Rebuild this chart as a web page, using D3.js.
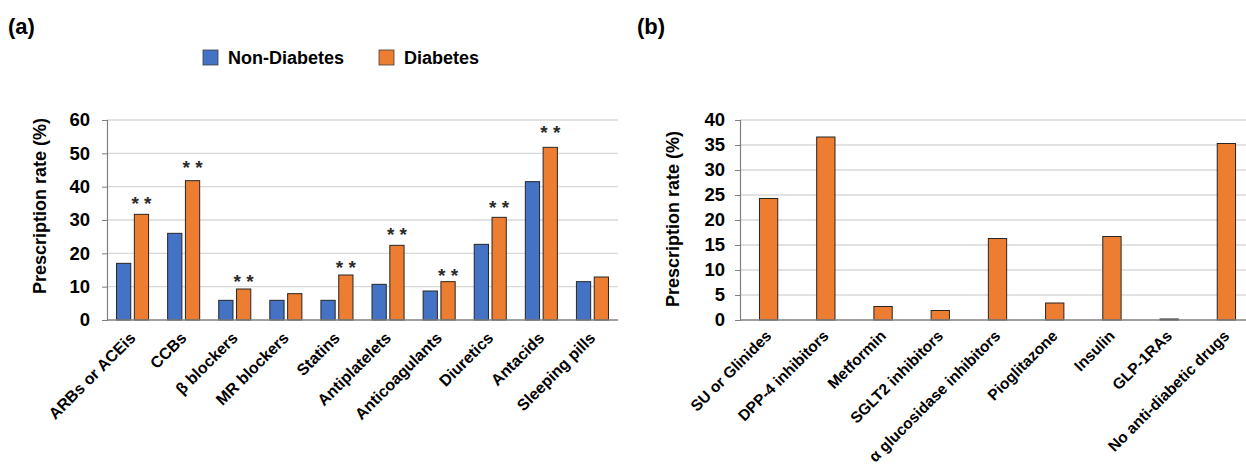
<!DOCTYPE html>
<html>
<head>
<meta charset="utf-8">
<script src="https://cdn.jsdelivr.net/npm/d3@7"></script>
<style>
  body { margin: 0; background: #fff; }
  svg { display: block; font-family: "Liberation Sans", Arial, sans-serif; }
</style>
</head>
<body>
<svg id="chart" width="1246" height="468"></svg>
<script>
// ---- data ----
const drugsA = ["ARBs or ACEis", "CCBs", "β blockers", "MR blockers", "Statins",
                "Antiplatelets", "Anticoagulants", "Diuretics", "Antacids", "Sleeping pills"];
const seriesA = ["Non-Diabetes", "Diabetes"];
const nonDiabetes = [17.0, 26.0, 5.9, 5.9, 5.9, 10.7, 8.7, 22.7, 41.5, 11.5];
const diabetes    = [31.7, 41.8, 9.3, 7.9, 13.5, 22.4, 11.5, 30.8, 51.8, 12.9];
// "**" marks: level (in %) where each mark sits, null = not significant
const sigLevel    = [36.2, 47.2, 13.0, null, 17.0, 27.0, 14.7, 35.0, 57.7, null];
const ticksA = [0, 10, 20, 30, 40, 50, 60];

const drugsB = ["SU or Glinides", "DPP-4 inhibitors", "Metformin", "SGLT2 inhibitors",
                "α glucosidase inhibitors", "Pioglitazone", "Insulin", "GLP-1RAs",
                "No anti-diabetic drugs"];
const valuesB = [24.3, 36.6, 2.7, 1.9, 16.3, 3.4, 16.7, 0.2, 35.3];
const ticksB = [0, 5, 10, 15, 20, 25, 30, 35, 40];

const BLUE = "#4472C4";
const ORANGE = "#ED7D31";
const GRID = "#d9d9d9";
const AXIS = "#808080";

const svg = d3.select("#chart");

// ---- helpers ----
function drawYAxis(g, y, ticks, x0, x1, pad) {
  // gridlines
  g.append("g").selectAll("line")
    .data(ticks.filter(t => t > 0))
    .join("line")
    .attr("x1", x0).attr("x2", x1)
    .attr("y1", d => y(d)).attr("y2", d => y(d))
    .attr("stroke", GRID).attr("stroke-width", 1.3);

  const ax = g.append("g")
    .attr("transform", `translate(${x0},0)`)
    .call(d3.axisLeft(y).tickValues(ticks).tickSize(5).tickPadding(pad));
  ax.select(".domain").attr("stroke", AXIS).attr("stroke-width", 1.2);
  ax.selectAll(".tick line").attr("stroke", AXIS);
  ax.selectAll(".tick text")
    .attr("font-size", 18.5).attr("font-weight", "bold").attr("fill", "#000")
    .attr("font-family", "Liberation Sans, Arial, sans-serif");
}

function drawXLabels(g, x, cats, yBase, size) {
  g.append("g").selectAll("text")
    .data(cats)
    .join("text")
    .attr("transform", d => `translate(${x(d) + x.bandwidth() / 2},${yBase}) rotate(-45)`)
    .attr("text-anchor", "end")
    .attr("dy", "0.35em")
    .attr("font-size", size)
    .attr("font-weight", "bold")
    .text(d => d);
}

function drawBaseline(g, x0, x1, y) {
  g.append("line")
    .attr("x1", x0).attr("x2", x1)
    .attr("y1", y).attr("y2", y)
    .attr("stroke", AXIS).attr("stroke-width", 1.6);
}

// ---- panel (a) ----
const gA = svg.append("g");
const xA = d3.scaleBand().domain(drugsA).range([107, 618]);
const xA1 = d3.scaleBand().domain(seriesA).range([0, xA.bandwidth()])
  .paddingInner(0.2).paddingOuter(0.535);
const yA = d3.scaleLinear().domain([0, 60]).range([320, 120]);

drawYAxis(gA, yA, ticksA, 107, 618, 12);

const rowsA = drugsA.map((d, i) => ({ drug: d, vals: [nonDiabetes[i], diabetes[i]], sig: sigLevel[i] }));

gA.append("g").selectAll("g")
  .data(rowsA)
  .join("g")
  .attr("transform", d => `translate(${xA(d.drug)},0)`)
  .selectAll("rect")
  .data(d => d.vals.map((v, j) => ({ key: seriesA[j], v: v })))
  .join("rect")
  .attr("x", d => xA1(d.key))
  .attr("width", xA1.bandwidth())
  .attr("y", d => yA(d.v))
  .attr("height", d => yA(0) - yA(d.v))
  .attr("fill", d => d.key === "Diabetes" ? ORANGE : BLUE)
  .attr("stroke", "#262626")
  .attr("stroke-width", 1);

gA.append("g").selectAll("text")
  .data(rowsA.filter(d => d.sig !== null))
  .join("text")
  .attr("x", d => xA(d.drug) + xA1("Diabetes") + xA1.bandwidth() / 2)
  .attr("y", d => yA(d.sig) + 11)
  .attr("text-anchor", "middle")
  .attr("font-size", 19)
  .attr("font-weight", "bold")
  .attr("fill", "#2b2b2b")
  .text("* *");

drawBaseline(gA, 107, 618, yA(0));
drawXLabels(gA, xA, drugsA, 335, 16);

gA.append("text")
  .attr("transform", "translate(46,206) rotate(-90)")
  .attr("text-anchor", "middle")
  .attr("font-size", 18).attr("font-weight", "bold")
  .text("Prescription rate (%)");

gA.append("text")
  .attr("x", 8).attr("y", 34)
  .attr("font-size", 22).attr("font-weight", "bold")
  .text("(a)");

// legend
const legend = gA.append("g");
const legendX = [203, 379];
seriesA.forEach((s, i) => {
  legend.append("rect")
    .attr("x", legendX[i]).attr("y", 50)
    .attr("width", 15).attr("height", 15)
    .attr("fill", i === 0 ? BLUE : ORANGE)
    .attr("stroke", "#404040").attr("stroke-width", 0.8);
  legend.append("text")
    .attr("x", legendX[i] + 25).attr("y", 64)
    .attr("font-size", 18).attr("font-weight", "bold")
    .text(s);
});

// ---- panel (b) ----
const gB = svg.append("g");
const xB = d3.scaleBand().domain(drugsB).range([740, 1255])
  .paddingInner(0.68).paddingOuter(0.34);
const yB = d3.scaleLinear().domain([0, 40]).range([320, 120]);

drawYAxis(gB, yB, ticksB, 740, 1255, 10);

gB.append("g").selectAll("rect")
  .data(drugsB.map((d, i) => ({ drug: d, v: valuesB[i] })))
  .join("rect")
  .attr("x", d => xB(d.drug))
  .attr("width", xB.bandwidth())
  .attr("y", d => yB(d.v))
  .attr("height", d => yB(0) - yB(d.v))
  .attr("fill", ORANGE)
  .attr("stroke", "#262626")
  .attr("stroke-width", 1);

drawBaseline(gB, 740, 1255, yB(0));
drawXLabels(gB, xB, drugsB, 333, 15.5);

gB.append("text")
  .attr("transform", "translate(679,219) rotate(-90)")
  .attr("text-anchor", "middle")
  .attr("font-size", 18).attr("font-weight", "bold")
  .text("Prescription rate (%)");

gB.append("text")
  .attr("x", 637).attr("y", 34)
  .attr("font-size", 22).attr("font-weight", "bold")
  .text("(b)");
</script>
</body>
</html>
